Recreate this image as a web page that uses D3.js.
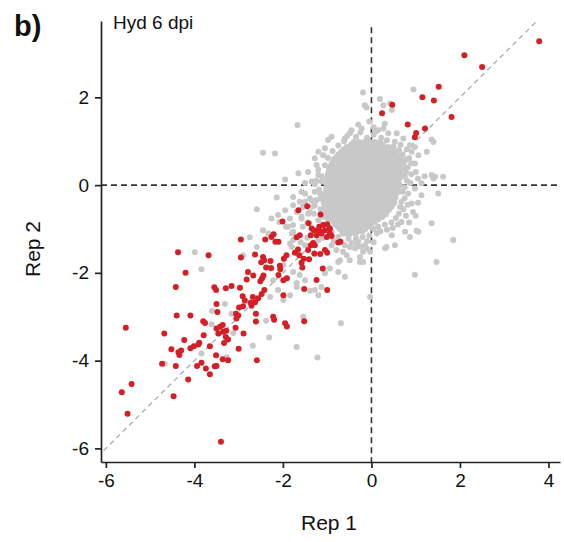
<!DOCTYPE html>
<html>
<head>
<meta charset="utf-8">
<script src="https://cdn.jsdelivr.net/npm/d3@7"></script>
<style>
  body { margin: 0; background: #fff; }
  text { font-family: "Liberation Sans", Arial, sans-serif; fill: #111; }
</style>
</head>
<body>
<div id="chart"></div>
<script>
// ticks / labels
const xTicks = [-6, -4, -2, 0, 2, 4];
const yTicks = [-6, -4, -2, 0, 2];
const panelLabel = "b)";
const titleText = "Hyd 6 dpi";
const xLabel = "Rep 1";
const yLabel = "Rep 2";

// dense grey core, one row per Rep 2 value: [y, [Rep 1 values]]
const greyCore = [
  [0.98, [-0.40,-0.28,-0.16,-0.04,0.08,0.20]],
  [0.925, [-0.46,-0.34,-0.22,-0.10,0.02,0.14,0.26]],
  [0.87, [-0.56,-0.44,-0.32,-0.20,-0.08,0.04,0.16,0.28,0.38]],
  [0.815, [-0.62,-0.50,-0.38,-0.26,-0.14,-0.02,0.10,0.22,0.34,0.44]],
  [0.76, [-0.68,-0.56,-0.44,-0.32,-0.20,-0.08,0.04,0.16,0.28,0.40,0.50]],
  [0.705, [-0.74,-0.62,-0.50,-0.38,-0.26,-0.14,-0.02,0.10,0.22,0.34,0.46,0.56]],
  [0.65, [-0.78,-0.66,-0.54,-0.42,-0.30,-0.18,-0.06,0.06,0.18,0.30,0.42,0.54,0.62]],
  [0.595, [-0.84,-0.72,-0.60,-0.48,-0.36,-0.24,-0.12,0.00,0.12,0.24,0.36,0.48,0.60,0.66]],
  [0.54, [-0.86,-0.74,-0.62,-0.50,-0.38,-0.26,-0.14,-0.02,0.10,0.22,0.34,0.46,0.58,0.68]],
  [0.485, [-0.90,-0.80,-0.68,-0.56,-0.44,-0.32,-0.20,-0.08,0.04,0.16,0.28,0.40,0.52,0.64,0.72]],
  [0.43, [-0.92,-0.80,-0.68,-0.56,-0.44,-0.32,-0.20,-0.08,0.04,0.16,0.28,0.40,0.52,0.64]],
  [0.375, [-0.96,-0.86,-0.74,-0.62,-0.50,-0.38,-0.26,-0.14,-0.02,0.10,0.22,0.34,0.46,0.58,0.70]],
  [0.32, [-0.96,-0.84,-0.72,-0.60,-0.48,-0.36,-0.24,-0.12,0.00,0.12,0.24,0.36,0.48,0.60]],
  [0.265, [-0.98,-0.90,-0.78,-0.66,-0.54,-0.42,-0.30,-0.18,-0.06,0.06,0.18,0.30,0.42,0.54,0.66]],
  [0.21, [-0.98,-0.86,-0.74,-0.62,-0.50,-0.38,-0.26,-0.14,-0.02,0.10,0.22,0.34,0.46,0.58,0.66]],
  [0.155, [-1.00,-0.92,-0.80,-0.68,-0.56,-0.44,-0.32,-0.20,-0.08,0.04,0.16,0.28,0.40,0.52,0.64]],
  [0.10, [-1.00,-0.88,-0.76,-0.64,-0.52,-0.40,-0.28,-0.16,-0.04,0.08,0.20,0.32,0.44,0.56]],
  [0.045, [-1.02,-0.94,-0.82,-0.70,-0.58,-0.46,-0.34,-0.22,-0.10,0.02,0.14,0.26,0.38,0.50,0.62]],
  [-0.01, [-1.00,-0.88,-0.76,-0.64,-0.52,-0.40,-0.28,-0.16,-0.04,0.08,0.20,0.32,0.44,0.56,0.64]],
  [-0.065, [-1.02,-0.94,-0.82,-0.70,-0.58,-0.46,-0.34,-0.22,-0.10,0.02,0.14,0.26,0.38,0.50,0.60]],
  [-0.12, [-1.02,-0.90,-0.78,-0.66,-0.54,-0.42,-0.30,-0.18,-0.06,0.06,0.18,0.30,0.42,0.54]],
  [-0.175, [-1.04,-0.96,-0.84,-0.72,-0.60,-0.48,-0.36,-0.24,-0.12,0.00,0.12,0.24,0.36,0.48,0.58]],
  [-0.23, [-1.04,-0.92,-0.80,-0.68,-0.56,-0.44,-0.32,-0.20,-0.08,0.04,0.16,0.28,0.40,0.52]],
  [-0.285, [-1.06,-0.98,-0.86,-0.74,-0.62,-0.50,-0.38,-0.26,-0.14,-0.02,0.10,0.22,0.34,0.46,0.54]],
  [-0.34, [-1.06,-0.94,-0.82,-0.70,-0.58,-0.46,-0.34,-0.22,-0.10,0.02,0.14,0.26,0.38,0.50]],
  [-0.395, [-1.08,-1.00,-0.88,-0.76,-0.64,-0.52,-0.40,-0.28,-0.16,-0.04,0.08,0.20,0.32,0.44,0.52]],
  [-0.45, [-1.06,-0.94,-0.82,-0.70,-0.58,-0.46,-0.34,-0.22,-0.10,0.02,0.14,0.26,0.38,0.48]],
  [-0.505, [-1.06,-1.00,-0.88,-0.76,-0.64,-0.52,-0.40,-0.28,-0.16,-0.04,0.08,0.20,0.32,0.44]],
  [-0.56, [-1.04,-0.92,-0.80,-0.68,-0.56,-0.44,-0.32,-0.20,-0.08,0.04,0.16,0.28,0.40]],
  [-0.615, [-1.02,-0.98,-0.86,-0.74,-0.62,-0.50,-0.38,-0.26,-0.14,-0.02,0.10,0.22,0.34]],
  [-0.67, [-1.00,-0.88,-0.76,-0.64,-0.52,-0.40,-0.28,-0.16,-0.04,0.08,0.20,0.32]],
  [-0.725, [-0.96,-0.82,-0.70,-0.58,-0.46,-0.34,-0.22,-0.10,0.02,0.14,0.24]],
  [-0.78, [-0.92,-0.80,-0.68,-0.56,-0.44,-0.32,-0.20,-0.08,0.04,0.16]],
  [-0.835, [-0.86,-0.74,-0.62,-0.50,-0.38,-0.26,-0.14,-0.02,0.08]],
  [-0.89, [-0.82,-0.70,-0.58,-0.46,-0.34,-0.22,-0.10,0.00]],
  [-0.945, [-0.76,-0.64,-0.52,-0.40,-0.28,-0.16,-0.06]],
  [-1.00, [-0.72,-0.60,-0.48,-0.36,-0.24,-0.14]],
  [-1.05, [-0.66,-0.54,-0.42,-0.30,-0.20]],
  [-1.10, [-0.60,-0.48,-0.36]]
];

// scattered grey points [Rep 1, Rep 2]
const greyScatter = [
  [-0.19,2.11],[-0.15,1.82],[-0.11,1.77],[0.19,1.96],[0.27,1.82],[0.42,1.86],[0.46,1.71],[0.95,2.18],
  [-1.67,1.37],[-2.45,0.74],[-2.18,0.72],[0.27,1.29],[0.15,1.25],[-0.22,1.29],[-0.60,1.06],[-0.90,1.10],
  [-0.98,1.03],[-0.49,1.18],[0.53,0.99],[0.72,1.06],[0.38,1.18],[0.87,0.91],[0.91,0.76],[1.06,0.68],
  [1.25,0.76],[0.98,0.49],[0.57,1.18],[1.36,1.04],[1.40,0.98],[0.98,0.87],[-1.20,0.76],[-1.28,0.61],
  [-1.09,0.68],[-1.05,0.84],[-1.24,0.46],[-1.65,0.27],[-1.43,0.30],[-1.20,0.23],[-1.35,0.08],[-1.13,0.08],
  [-1.28,-0.15],[-1.58,-0.15],[-1.50,-0.38],[-1.28,-0.46],[-1.39,-0.61],[-1.58,-0.76],[-1.95,0.13],[-1.50,0.05],
  [-1.28,0.02],[-0.98,-0.76],[-0.82,-0.68],[-0.90,-1.06],[-0.75,-1.18],[-0.52,-1.22],[-0.30,-1.29],[-0.15,-1.37],
  [-0.37,-1.44],[-0.60,-1.37],[-0.75,-1.75],[-0.03,-1.52],[-0.26,-1.64],[0.31,-1.44],[0.53,-1.37],[0.46,-1.14],
  [0.76,-1.06],[1.06,-1.06],[0.87,-1.18],[0.68,-0.84],[0.94,-0.61],[0.91,-0.42],[1.13,-0.23],[0.68,-0.38],
  [1.36,-0.87],[1.51,-0.19],[1.44,0.19],[1.62,0.19],[1.13,0.04],[0.98,-0.08],[0.83,-0.19],[1.47,-1.75],
  [1.85,-1.25],[1.36,0.23],[1.40,0.15],[0.98,-2.04],[0.34,-1.41],[1.02,-1.04],[0.12,-1.10],[-0.49,-1.71],
  [-0.19,-1.75],[-0.56,-1.60],[-0.03,-2.55],[-0.69,-3.15],
  [0.78,0.30],[0.80,0.10],[0.75,-0.05],[0.72,0.55],[0.85,0.62],[0.72,-0.55],[0.62,-0.65],[0.55,-0.75],
  [0.45,-0.85],[0.30,-0.90],[0.15,-0.95],[0.05,-1.00],[-1.15,-0.30],[-1.20,0.35],[-1.10,-0.90],[-0.62,1.00],
  [-0.55,1.12],[-0.35,1.10],[-0.25,1.20],[-0.10,1.08],[0.05,1.15],[0.22,1.08],[0.35,1.02],[-0.45,1.25],
  [0.05,1.32],[-0.05,1.45],[0.30,1.40],[-0.30,1.38],[0.10,1.22],
  [0.50,0.88],[0.62,0.80],[0.70,0.70],[0.78,0.58],[0.66,0.92],[0.80,0.82],[0.90,0.50],[0.82,0.40],
  [0.75,0.20],[0.90,0.25],[1.00,0.30],[0.88,0.05],[1.05,0.15],[1.20,0.20],
  [0.70,-0.15],[0.75,-0.30],[0.65,-0.50],[0.82,-0.45],[0.78,-0.70],[0.60,-0.90],[0.48,-0.98],[0.35,-1.02],
  [0.20,-1.05],[1.05,-0.40],[1.00,-0.70],[0.85,-0.85],
  [-0.05,-1.15],[-0.20,-1.18],[-0.35,-1.22],[-0.50,-1.12],[-0.65,-1.10],[-0.10,-1.28],[0.05,-1.30],[-0.45,-1.32],
  [-0.25,-1.40],
  [-1.15,-0.55],[-1.18,-0.10],[-1.12,0.20],[-1.05,0.45],[-0.98,0.62],[-0.88,0.78],[-0.75,0.90],[-1.20,-0.80],
  [-1.25,0.10],[-1.35,-0.35],[-1.30,-0.65],[-1.45,-0.85],[-1.55,-0.50],
  [-1.10,-1.20],[-0.85,-1.28],[-1.20,-1.25],[-1.55,-0.95],[-1.60,-1.30],[-1.45,-1.20],
  [-2.59,-0.55],[-2.26,-0.76],[-2.11,-0.68],[-2.08,-0.84],[-1.95,-0.57],[-1.84,-0.76],[-1.88,-0.95],[-1.77,-1.06],
  [-1.77,-0.46],[-1.62,-0.38],[-1.69,-0.61],[-1.58,-0.72],[-1.43,-0.65],[-1.32,-0.49],[-1.24,-0.34],[-1.39,-0.30],
  [-1.50,-0.19],[-1.16,-0.19],[-1.09,-0.72],[-0.94,-0.61],[-1.77,-0.91],[-1.93,-0.95],[-1.80,-1.10],[-2.45,-1.03],
  [-2.33,-1.10],[-2.59,-1.41],[-2.75,-1.19],[-2.90,-1.60],[-1.80,-1.41],[-1.50,-1.37],[-1.84,-1.33],[-1.77,-1.25],
  [-0.90,-1.37],[-0.79,-1.48],[-0.64,-1.52],[-0.49,-1.41],[-0.33,-1.33],[-0.19,-1.52],[-0.11,-1.44],[-0.71,-1.71],
  [-0.26,-1.75],[-0.94,-1.90],[-0.75,-1.98],[-0.60,-2.09],[-1.05,-2.01],[-1.62,-2.05],[-1.77,-1.98],[-1.50,-2.17],
  [-1.13,-2.32],[-1.28,-2.39],[-1.69,-2.32],[-1.20,-2.51],[-2.11,-2.39],[-2.22,-2.17],[-1.84,-2.51],[-2.29,-2.55],
  [-1.99,-2.62],[-1.99,-1.82],[-2.26,-1.90],[-1.69,-2.23],[-1.39,-2.41],[-1.54,-3.00],[-1.69,-3.69],[-1.22,-3.93],
  [-2.31,-3.47],[-2.68,-3.66],[-2.38,-3.09],[-3.31,-2.71],[-3.60,-2.87],[-3.12,-3.37],[-3.27,-3.92],[-3.84,-3.84],
  [-4.67,-4.07],[-3.61,-3.17],[-3.99,-1.53],[-3.84,-1.92],[-3.16,-2.93],[-2.14,-0.28],[-1.77,-0.27]
];

// red (significant) points [Rep 1, Rep 2]
const redPoints = [
  [3.79,3.28],[2.10,2.96],[2.50,2.69],[1.52,2.24],[1.15,2.00],[1.41,1.93],[1.81,1.55],[0.47,1.83],
  [0.24,1.64],[0.82,1.38],[1.21,1.29],[1.01,1.19],[0.98,1.09],
  [-1.65,-0.57],[-1.45,-0.48],[-1.15,-0.67],[-2.01,-0.83],[-1.42,-0.87],[-1.18,-0.95],[-1.09,-0.91],[-1.00,-0.89],
  [-0.94,-0.99],[-1.05,-1.03],[-1.13,-1.07],[-1.20,-1.03],[-1.24,-1.14],[-1.13,-1.10],[-0.94,-1.10],[-1.01,-1.18],
  [-0.90,-1.16],[-1.35,-0.99],[-1.37,-1.14],[-1.30,-1.03],[-0.75,-1.31],[-0.70,-1.29],[-1.32,-1.32],[-1.37,-1.37],
  [-1.28,-1.37],[-1.62,-1.14],[-1.69,-1.19],[-2.21,-1.12],[-2.26,-1.18],[-2.17,-1.29],[-2.10,-1.29],[-2.40,-1.24],
  [-2.95,-1.24],[-1.66,-1.47],[-1.73,-1.54],[-1.63,-1.60],[-1.43,-1.48],[-1.29,-1.56],[-1.16,-1.57],[-1.05,-1.48],
  [-1.00,-1.54],[-1.92,-1.60],[-1.98,-1.68],[-1.53,-1.68],[-1.58,-1.77],[-1.56,-1.88],[-1.41,-1.69],[-2.63,-1.58],
  [-2.45,-1.64],[-2.42,-1.71],[-2.49,-1.76],[-2.28,-1.73],[-2.95,-1.65],[-3.68,-1.60],[-4.37,-1.53],[-4.20,-2.00],
  [-4.42,-2.32],[-2.38,-1.88],[-2.07,-1.84],[-2.06,-1.92],[-2.27,-1.89],[-2.79,-1.98],[-2.67,-2.06],[-2.47,-2.12],
  [-2.44,-2.06],[-2.51,-2.19],[-2.82,-2.15],[-2.10,-2.05],[-1.99,-2.17],[-1.91,-2.12],[-1.24,-2.16],[-1.10,-1.90],
  [-1.00,-2.39],[-1.52,-2.37],[-3.55,-2.33],[-3.51,-2.39],[-3.29,-2.35],[-3.16,-2.30],[-2.97,-2.34],[-1.99,-2.51],
  [-2.42,-2.39],[-2.48,-2.48],[-2.56,-2.58],[-2.68,-2.55],[-2.73,-2.68],[-2.63,-2.67],[-2.71,-2.75],[-2.91,-2.53],
  [-2.86,-2.63],[-2.90,-2.76],[-2.99,-2.79],[-3.06,-2.93],[-3.01,-2.97],[-3.05,-3.04],[-3.50,-2.71],[-3.48,-2.89],
  [-4.40,-2.97],[-4.09,-2.97],[-3.80,-3.10],[-3.76,-3.14],[-2.61,-2.93],[-2.61,-3.11],[-2.22,-3.00],[-2.20,-3.07],
  [-1.95,-3.15],[-1.91,-3.22],[-1.52,-3.10],[-5.55,-3.25],[-4.68,-3.38],[-4.23,-3.53],[-3.79,-3.42],[-4.01,-3.67],
  [-4.09,-3.72],[-3.91,-3.63],[-3.89,-3.59],[-4.52,-3.74],[-4.36,-3.81],[-4.30,-3.77],[-4.34,-3.87],[-3.65,-3.67],
  [-3.51,-3.88],[-3.50,-3.27],[-3.46,-3.38],[-3.42,-3.23],[-3.35,-3.34],[-3.29,-3.46],[-3.33,-3.60],[-3.36,-3.19],
  [-3.28,-3.32],[-3.24,-3.52],[-3.00,-3.73],[-2.89,-3.38],[-3.07,-3.25],[-3.36,-3.97],[-3.24,-3.99],[-2.59,-3.99],
  [-3.84,-4.05],[-4.73,-4.07],[-4.42,-4.12],[-3.94,-4.12],[-3.74,-4.18],[-3.65,-4.31],[-3.54,-4.13],[-3.50,-4.12],
  [-4.14,-4.43],[-5.42,-4.53],[-5.64,-4.72],[-4.47,-4.81],[-5.51,-5.21],[-3.40,-5.85]
];

const width = 564, height = 542;
const plot = {left: 101, right: 560, top: 21, bottom: 462};

const svg = d3.select("#chart")
    .append("svg")
    .attr("width", width)
    .attr("height", height);

const x = d3.scaleLinear().domain([-6.11, 4.26]).range([plot.left, plot.right]);
const y = d3.scaleLinear().domain([-6.31, 3.74]).range([plot.bottom, plot.top]);

// flatten the grey core rows into points
const greyPoints = [];
greyCore.forEach(function(row) {
    row[1].forEach(function(v) { greyPoints.push([v, row[0]]); });
});
greyScatter.forEach(function(p) { greyPoints.push(p); });

// reference lines
svg.append("line")
    .attr("x1", x(-6.05)).attr("y1", y(-6.05))
    .attr("x2", x(3.74)).attr("y2", y(3.74))
    .attr("stroke", "#aaa").attr("stroke-width", 1.3)
    .attr("stroke-dasharray", "5,4");

svg.append("line")
    .attr("x1", x(0)).attr("x2", x(0))
    .attr("y1", y(3.6)).attr("y2", plot.bottom)
    .attr("stroke", "#333").attr("stroke-width", 1.6)
    .attr("stroke-dasharray", "6,4");

svg.append("line")
    .attr("x1", plot.left).attr("x2", plot.right)
    .attr("y1", y(0)).attr("y2", y(0))
    .attr("stroke", "#333").attr("stroke-width", 1.6)
    .attr("stroke-dasharray", "6,4");

// points
svg.append("g")
    .selectAll("circle")
    .data(greyPoints)
    .enter()
    .append("circle")
    .attr("cx", function(d) { return x(d[0]); })
    .attr("cy", function(d) { return y(d[1]); })
    .attr("r", 3)
    .attr("fill", "#c8c8c8");

svg.append("g")
    .selectAll("circle")
    .data(redPoints)
    .enter()
    .append("circle")
    .attr("cx", function(d) { return x(d[0]); })
    .attr("cy", function(d) { return y(d[1]); })
    .attr("r", 3)
    .attr("fill", "#d41f26");

// axes
const fmt = function(d) { return d < 0 ? "-" + Math.abs(d) : d; };

const xAxis = svg.append("g")
    .attr("transform", "translate(0," + plot.bottom + ")")
    .call(d3.axisBottom(x).tickValues(xTicks).tickSize(6).tickSizeOuter(0).tickPadding(6).tickFormat(fmt));

const yAxis = svg.append("g")
    .attr("transform", "translate(" + plot.left + ",0)")
    .call(d3.axisLeft(y).tickValues(yTicks).tickSize(6).tickSizeOuter(0).tickPadding(6).tickFormat(fmt));

[xAxis, yAxis].forEach(function(g) {
    g.select(".domain").attr("stroke", "#222").attr("stroke-width", 1.7);
    g.selectAll(".tick line").attr("stroke", "#222").attr("stroke-width", 1.7);
    g.selectAll(".tick text")
        .attr("font-family", "Liberation Sans, Arial, sans-serif")
        .attr("font-size", 19)
        .attr("fill", "#111");
});

// labels
svg.append("text")
    .attr("x", 329)
    .attr("y", 530)
    .attr("text-anchor", "middle")
    .attr("font-size", 21)
    .text(xLabel);

svg.append("text")
    .attr("transform", "translate(40,249) rotate(-90)")
    .attr("text-anchor", "middle")
    .attr("font-size", 21)
    .text(yLabel);

svg.append("text")
    .attr("x", 113)
    .attr("y", 29)
    .attr("font-size", 19)
    .text(titleText);

svg.append("text")
    .attr("x", 14)
    .attr("y", 36)
    .attr("font-size", 29)
    .attr("font-weight", "bold")
    .text(panelLabel);
</script>
</body>
</html>
